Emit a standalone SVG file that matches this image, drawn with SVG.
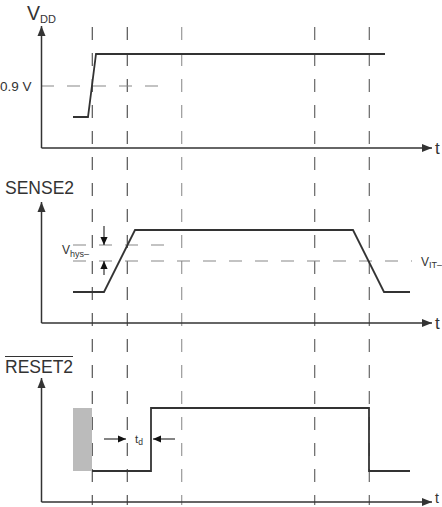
<svg xmlns="http://www.w3.org/2000/svg" width="442" height="507" viewBox="0 0 442 507">
<style>
.axis{stroke:#333;stroke-width:1.5;fill:none}
.sig{stroke:#333;stroke-width:1.8;fill:none;stroke-linejoin:miter}
.vd{stroke-width:1.2;stroke-dasharray:13 13;fill:none}
.hd{stroke:#888;stroke-width:1.2;stroke-dasharray:13 13;fill:none}
.lbl{font-family:"Liberation Sans",Arial,sans-serif;fill:#333}
.sm{stroke:#333;stroke-width:1.2;fill:none}
</style>
<defs>
<marker id="ah" viewBox="0 0 10 10" refX="10" refY="5" markerWidth="10" markerHeight="10" markerUnits="userSpaceOnUse" orient="auto">
<path d="M0,1 L10,5 L0,9 Z" fill="#333"/>
</marker>
<marker id="ahs" viewBox="0 0 10 10" refX="10" refY="5" markerWidth="8" markerHeight="8" markerUnits="userSpaceOnUse" orient="auto">
<path d="M0,0.5 L10,5 L0,9.5 Z" fill="#111"/>
</marker>
</defs>
<g id="gridlines">
<line class="vd" x1="92.3" y1="27" x2="92.3" y2="505" stroke="#555"/>
<line class="vd" x1="127.3" y1="27" x2="127.3" y2="505" stroke="#555"/>
<line class="vd" x1="181.7" y1="27" x2="181.7" y2="505" stroke="#999"/>
<line class="vd" x1="314.7" y1="27" x2="314.7" y2="505" stroke="#666"/>
<line class="vd" x1="369.3" y1="27" x2="369.3" y2="505" stroke="#666"/>
<line class="hd" x1="41" y1="86" x2="162" y2="86" stroke-dasharray="14 12" stroke="#999"/>
<line class="hd" x1="73" y1="245" x2="165" y2="245" stroke="#666" stroke-dasharray="14 11"/>
<line class="hd" x1="73" y1="261" x2="412" y2="261" stroke="#666" stroke-dasharray="14 11"/>
</g>
<g id="vdd-panel">
<line class="axis" x1="41.5" y1="148" x2="41.5" y2="26" marker-end="url(#ah)"/>
<line class="axis" x1="41.5" y1="148" x2="432" y2="148" marker-end="url(#ah)"/>
<text class="lbl" x="27" y="20" font-size="19.5">V<tspan font-size="11" dy="3">DD</tspan></text>
<text class="lbl" x="0" y="91" font-size="13.5">0.9 V</text>
<text class="lbl" x="435" y="154" font-size="17">t</text>
<polyline class="sig" points="73,117 88,117 96,54 385,54"/>
</g>
<g id="sense-panel">
<line class="axis" x1="41.5" y1="323" x2="41.5" y2="202" marker-end="url(#ah)"/>
<line class="axis" x1="41.5" y1="323" x2="432" y2="323" marker-end="url(#ah)"/>
<text class="lbl" x="5" y="194" font-size="17.5">SENSE2</text>
<text class="lbl" x="435" y="329" font-size="17">t</text>
<polyline class="sig" points="73,292 104,292 135,230 353,230 384,292 410,292"/>
<line class="sm" x1="104" y1="226" x2="104" y2="245" marker-end="url(#ahs)"/>
<line class="sm" x1="104" y1="275" x2="104" y2="261" marker-end="url(#ahs)"/>
<text class="lbl" x="62" y="254" font-size="12">V<tspan font-size="9" dy="3">hys–</tspan></text>
<text class="lbl" x="421" y="266" font-size="12">V<tspan font-size="9" dy="2">IT–</tspan></text>
</g>
<g id="reset-panel">
<line class="axis" x1="41.5" y1="502" x2="41.5" y2="378" marker-end="url(#ah)"/>
<line class="axis" x1="41.5" y1="502" x2="432" y2="502" marker-end="url(#ah)"/>
<text class="lbl" x="5" y="373" font-size="17.5">RESET2</text>
<line x1="5" y1="356.5" x2="73" y2="356.5" stroke="#333" stroke-width="1.2"/>
<text class="lbl" x="435" y="503" font-size="14">t</text>
<rect x="73" y="408" width="19" height="63" fill="#bbb"/>
<polyline class="sig" points="92,471 151,471 151,408 369,408 369,471 410,471"/>
<line class="sm" x1="104" y1="439" x2="126" y2="439" marker-end="url(#ahs)"/>
<line class="sm" x1="175" y1="439" x2="153" y2="439" marker-end="url(#ahs)"/>
<text class="lbl" x="135" y="443" font-size="11.5">t<tspan font-size="8.5" dy="2">d</tspan></text>
</g>
</svg>
